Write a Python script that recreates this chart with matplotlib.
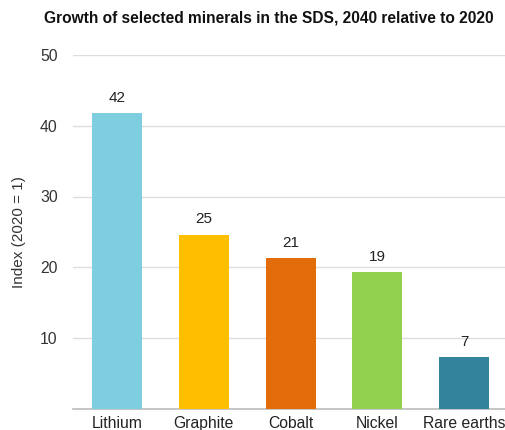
import matplotlib
matplotlib.use("Agg")
import numpy as np
import matplotlib.pyplot as plt

plt.rcParams['font.family'] = ['Liberation Sans', 'DejaVu Sans']

minerals = ['Lithium', 'Graphite', 'Cobalt', 'Nickel', 'Rare earths']
growth = [41.8, 24.6, 21.3, 19.3, 7.3]
labels = ['42', '25', '21', '19', '7']
colors = ['#7FCEE0', '#FDBF00', '#E36C0A', '#92D050', '#31849B']
y_ticks = [10, 20, 30, 40, 50]

fig = plt.figure(figsize=(5.06, 4.30), dpi=100)
ax = fig.add_axes([73 / 506, 1 - 408.75 / 430, 433 / 506, (408.75 - 55) / 430])

x = np.arange(len(minerals))
bars = ax.bar(x, growth, width=0.575, color=colors, zorder=3)
for b, lab in zip(bars, labels):
    ax.text(b.get_x() + b.get_width() / 2, b.get_height() + 1.2, lab,
            ha='center', va='bottom', fontsize=11, color='#222222')

ax.set_xlim(-0.505, 4.48)
ax.set_ylim(0, 50)
ax.set_yticks(y_ticks)
ax.set_yticklabels([str(t) for t in y_ticks], fontsize=11.3, color='#333333')
ax.set_xticks(x)
ax.set_xticklabels(minerals, fontsize=11.3, color='#222222')
ax.tick_params(axis='x', length=0, pad=5)
ax.tick_params(axis='y', length=0, pad=11)
ax.grid(axis='y', color='#dddddd', linewidth=1, zorder=0)
for s in ['top', 'right', 'left']:
    ax.spines[s].set_visible(False)
ax.spines['bottom'].set_color('#bbbbbb')
ax.spines['bottom'].set_linewidth(1.2)

ax.set_ylabel('Index (2020 = 1)', fontsize=11, color='#333333', labelpad=10)
fig.text(269 / 506, 1 - 18 / 430, 'Growth of selected minerals in the SDS, 2040 relative to 2020',
         ha='center', va='center', fontsize=11.2, fontweight='bold', color='#111111')

fig.savefig('out.png', dpi=100)
